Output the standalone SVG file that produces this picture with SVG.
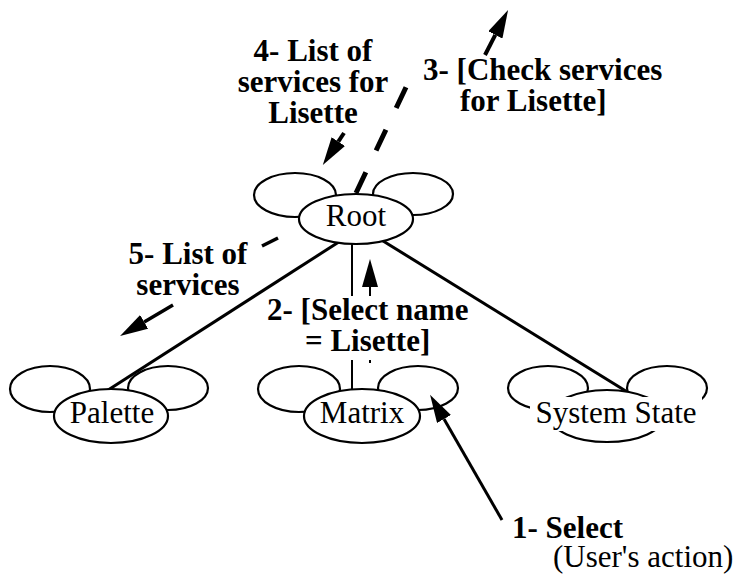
<svg xmlns="http://www.w3.org/2000/svg" width="740" height="576" viewBox="0 0 740 576">
  <style>
    .main { fill: #fff; stroke: #000; stroke-width: 2.2; }
    .ear { fill: none; stroke: #000; stroke-width: 2.2; }
    .name { font-family: "Liberation Serif", "Times New Roman", serif; font-size: 31px; fill: #000; text-anchor: middle; }
    .lbl { font-family: "Liberation Serif", "Times New Roman", serif; font-size: 31px; font-weight: bold; fill: #000; }
    .note { font-family: "Liberation Serif", "Times New Roman", serif; font-size: 31px; fill: #000; }
    .mid { text-anchor: middle; }
    .link { stroke: #000; fill: none; stroke-linecap: butt; }
    .bg { fill: #fff; }
  </style>
  <defs>
    <marker id="head" markerUnits="userSpaceOnUse" markerWidth="28" markerHeight="16" viewBox="0 0 28 16" refX="0" refY="8" orient="auto">
      <path d="M0,0 L28,8 L0,16 Z" fill="#000"/>
    </marker>
  </defs>
  <rect width="740" height="576" fill="#fff"/>

  <!-- connectors -->
  <g id="connectors">
    <!-- tree edges -->
    <path class="link" d="M345,238 L105,392" stroke-width="3"/>
    <path class="link" d="M352,240 L352,392" stroke-width="2"/>
    <path class="link" d="M375,236 L629,393" stroke-width="3"/>
    <!-- 1: user selection on Matrix -->
    <path class="link" d="M502,520 L444,419" stroke-width="3" marker-end="url(#head)"/>
    <!-- 2: Matrix asks Root -->
    <path class="link" d="M370,363 L370,287" stroke-width="2" marker-end="url(#head)"/>
    <!-- 3: Root asks upward (dashed) -->
    <path class="link" d="M356,193 L408,83" stroke-width="5" stroke-dasharray="23 24"/>
    <path class="link" d="M485,55 L495.3,34.9" stroke-width="4" marker-end="url(#head)"/>
    <!-- 4: answer back to Root -->
    <path class="link" d="M344,133 L338.3,141.6" stroke-width="4" marker-end="url(#head)"/>
    <!-- 5: Root forwards to Palette -->
    <path class="link" d="M278,238 L262,246" stroke-width="3.5"/>
    <path class="link" d="M173,305 L144.2,321.9" stroke-width="3.5" marker-end="url(#head)"/>
  </g>

  <!-- nodes -->
  <g id="root">
    <ellipse class="ear" cx="295" cy="195" rx="41" ry="22"/>
    <ellipse class="ear" cx="413" cy="194" rx="40" ry="21"/>
    <ellipse class="main" cx="356" cy="219" rx="57" ry="25"/>
    <text class="name" x="356" y="226">Root</text>
  </g>
  <g id="palette">
    <ellipse class="ear" cx="50" cy="389" rx="40" ry="23"/>
    <ellipse class="ear" cx="168" cy="388" rx="40" ry="22"/>
    <ellipse class="main" cx="111" cy="416" rx="57" ry="27"/>
    <text class="name" x="112" y="423">Palette</text>
  </g>
  <g id="matrix">
    <ellipse class="ear" cx="299" cy="389" rx="41" ry="23"/>
    <ellipse class="ear" cx="418" cy="388" rx="40" ry="22"/>
    <ellipse class="main" cx="362" cy="416" rx="58" ry="27"/>
    <text class="name" x="362" y="423">Matrix</text>
  </g>
  <g id="system-state">
    <ellipse class="ear" cx="548" cy="388" rx="40" ry="22"/>
    <ellipse class="ear" cx="667" cy="388" rx="40" ry="22"/>
    <ellipse class="main" cx="607" cy="416" rx="57" ry="26"/>
    <rect class="bg" x="530" y="397" width="172" height="34"/>
    <text class="name" x="616" y="423">System State</text>
  </g>

  <!-- message labels -->
  <g id="labels">
    <g id="label-4">
      <text class="lbl mid" x="313" y="61">4- List of</text>
      <text class="lbl mid" x="313" y="92">services for</text>
      <text class="lbl mid" x="313" y="123">Lisette</text>
    </g>
    <g id="label-3">
      <text class="lbl" x="423" y="80">3- [Check services</text>
      <text class="lbl" x="460" y="111">for Lisette]</text>
    </g>
    <g id="label-5">
      <text class="lbl mid" x="188" y="264">5- List of</text>
      <text class="lbl mid" x="188" y="295">services</text>
    </g>
    <g id="label-2">
      <rect class="bg" x="264" y="296" width="204" height="64"/>
      <text class="lbl" x="267" y="320">2- [Select name</text>
      <text class="lbl" x="305" y="351">= Lisette]</text>
    </g>
    <g id="label-1">
      <text class="lbl" x="512" y="538">1- Select</text>
      <text class="note" x="553" y="567">(User's action)</text>
    </g>
  </g>
</svg>
